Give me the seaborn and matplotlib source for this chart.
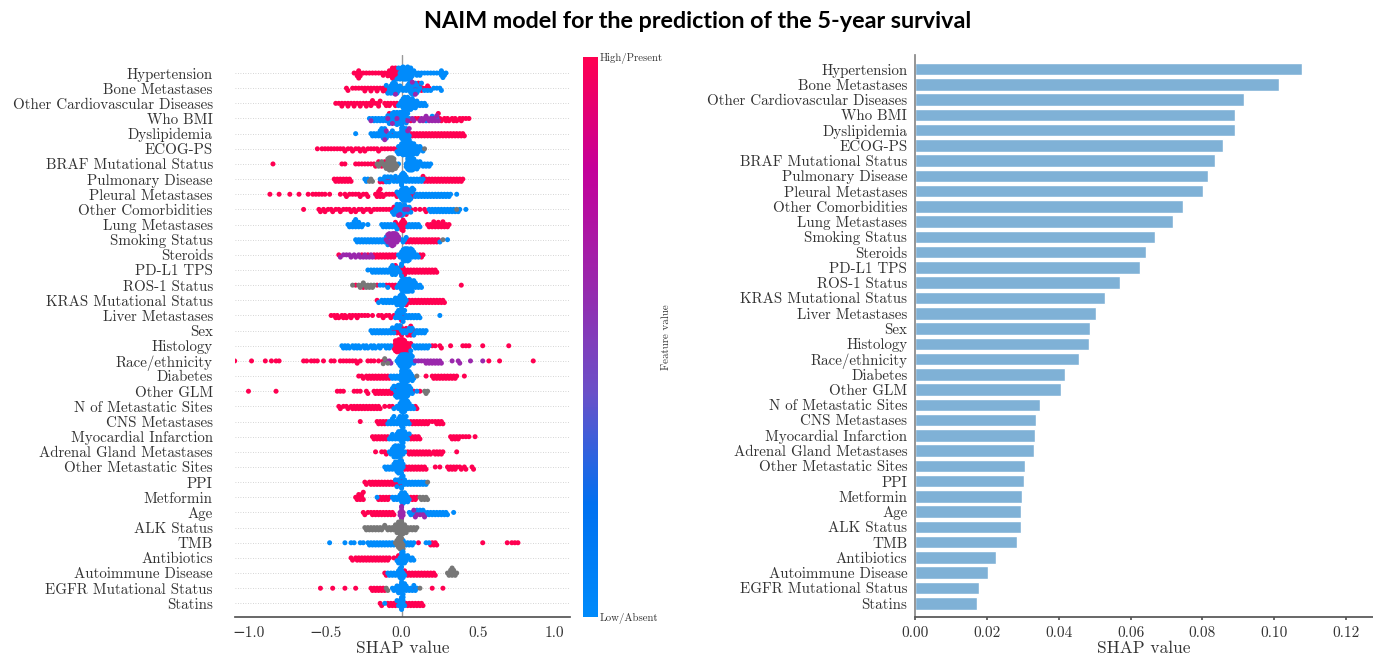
import numpy as np
import pandas as pd
import matplotlib
matplotlib.use("Agg")
import matplotlib.pyplot as plt
from matplotlib.colors import LinearSegmentedColormap
from matplotlib.cm import ScalarMappable
import seaborn as sns
import warnings
warnings.filterwarnings("ignore")

features = ["Hypertension", "Bone Metastases", "Other Cardiovascular Diseases", "Who BMI", "Dyslipidemia",
            "ECOG-PS", "BRAF Mutational Status", "Pulmonary Disease", "Pleural Metastases", "Other Comorbidities",
            "Lung Metastases", "Smoking Status", "Steroids", "PD-L1 TPS", "ROS-1 Status", "KRAS Mutational Status",
            "Liver Metastases", "Sex", "Histology", "Race/ethnicity", "Diabetes", "Other GLM",
            "N of Metastatic Sites", "CNS Metastases", "Myocardial Infarction", "Adrenal Gland Metastases",
            "Other Metastatic Sites", "PPI", "Metformin", "Age", "ALK Status", "TMB", "Antibiotics",
            "Autoimmune Disease", "EGFR Mutational Status", "Statins"]

mean_shap = [0.1077, 0.1012, 0.0915, 0.0892, 0.0890, 0.0857, 0.0836, 0.0815, 0.0803, 0.0747, 0.0718, 0.0668,
             0.0643, 0.0625, 0.0572, 0.0530, 0.0505, 0.0487, 0.0483, 0.0457, 0.0418, 0.0407, 0.0348, 0.0338,
             0.0335, 0.0332, 0.0307, 0.0303, 0.0297, 0.0296, 0.0295, 0.0284, 0.0225, 0.0202, 0.0178, 0.0172]

# SHAP values per patient group, in hundredths, read from the beeswarm
high_values = {
    "Hypertension": [-31,-29,-29,-28,-28,-27,-27,-25,-23,-21,-19,-17,-15,-13,-12,-11,-9,-9,-8,-7,-7,-6,-6,-6,-5,-5,-5,-4,-4,-4,-3,-3,-2],
    "Bone Metastases": [-36,-35,-32,-30,-28,-26,-24,-24,-22,-20,-20,-18,-16,-16,-14,-12,-12,-10,-10,8,10,11,12,13,14,16,17,18],
    "Other Cardiovascular Diseases": [-43,-41,-39,-39,-37,-35,-35,-33,-31,-31,-29,-27,-27,-25,-23,-23,-21,-20,-19,-19,-17,-15,-15,-14,-11,-10,-9,-8,-7,-5,-4,-3],
    "Who BMI": [-8,-4,0,3,6,9,11,24,25,26,28,29,30,31,33,34,35,36,38,39,40,42,44],
    "Dyslipidemia": [-10,-6,6,7,8,9,10,11,12,13,14,15,16,17,18,19,20,21,22,23,24,25,26,27,28,29,30,31,32,33,34,35,36,37,38,39,40,41],
    "ECOG-PS": [-55,-52,-50,-48,-46,-44,-42,-40,-38,-37,-35,-33,-32,-30,-28,-27,-25,-24,-22,-20,-18,-16,-15,-13,-11,-9,-7,-5,-3],
    "BRAF Mutational Status": [-84,-39,-37,-30,-28,-26,-24,-22,-20,-18,-17,-15,-13,-11],
    "Pulmonary Disease": [-44,-43,-42,-41,-40,-39,-38,-37,-36,-35,-34,-33,-14,-12,-10,-8,-4,14,15,16,17,18,19,20,21,22,23,24,25,26,27,28,29,30,31,32,33,34,35,36,37,38,39,40],
    "Pleural Metastases": [-86,-80,-73,-67,-61,-58,-56,-54,-52,-50,-47,-40,-37,-36,-34,-32,-30,-28,-27,-25,-23,-22,-17,-16,-15,-15,-14,-14,-13,-12,-10,-8,-6,-4,-3,6,7,8],
    "Other Comorbidities": [-64,-54,-53,-51,-50,-48,-46,-45,-43,-41,-40,-38,-36,-34,-33,-31,-30,-28,-26,-25,-23,-21,-20,-18,-16,-14,-12,-10,-8,-6,-5,3,6,9,12,15,16],
    "Lung Metastases": [-4,-3,-2,-1,0,0,0,1,1,1,2,2,3,17,18,19,20,21,21,22,23,24,24,25,26,27,27,28,29,30,31],
    "Smoking Status": [3,4,5,6,7,8,9,10,11,12,13,14,15,16,17,18,19,20,21,22,23,24],
    "Steroids": [-41,-26,-22,-18,-17,-16,-15,-14,-13,-12,-11,-10,-9,-8,-7,-6,-5,-4,12,13,14],
    "PD-L1 TPS": [-4,-1,0,0,1,1,2,2,3,4,5,6,7,8,9,10,11,12,13,14,15,16,17,18,19,20,21,22,23],
    "ROS-1 Status": [-30,-25,-16,-10,-8,-6,-5,-4,39],
    "KRAS Mutational Status": [-16,3,4,5,6,7,8,9,10,11,12,13,14,15,16,17,18,19,20,21,22,23,24,25,26,27,28],
    "Liver Metastases": [-46,-44,-43,-42,-41,-39,-38,-37,-36,-34,-33,-32,-30,-29,-28,-26,-24,-22,-19,-15,-13,-12,-10,-8,-7,-5,0,0,1],
    "Sex": [-6,-4,-3,-2,-1,0,0,3,4,5,6,6,7,8],
    "Histology": [-5,-5,-4,-4,-4,-3,-3,-3,-2,-2,-2,-2,-1,-1,-1,-1,0,0,0,0,0,1,1,1,1,2,2,2,3,3,3,4,4,5,5,6,20,22,25,26,32,40,42,44,53,70],
    "Race/ethnicity": [-109,-98,-89,-85,-82,-80,-64,-62,-59,-57,-55,-51,-46,-44,-40,-38,-36,-34,-32,-30,-29,-27,-22,-20,-18,-15,-12,57,64,86],
    "Diabetes": [-28,-26,-25,-23,-22,-21,-20,-19,-18,-17,-16,-15,-14,-13,-12,-11,-10,-9,-8,16,20,21,22,23,24,25,26,27,28,29,30,31,32,33,34,35,36,41],
    "Other GLM": [-100,-82,-42,-40,-38,-31,-29,-27,-23,-22,-18,-17,-16,-15,-14,-13,-12,-11,-10,-9,-8,-7,-6,-5,-4,8,12],
    "N of Metastatic Sites": [-41,-40,-38,-36,-35,-33,-32,-31,-30,-29,-28,-27,-26,-25,-24,-23,-22,-21,-20,-19,-18,-17,-16,-15,-14,-11,-8,-6,9,10],
    "CNS Metastases": [-27,-16,-15,-14,-13,-12,-11,-10,6,7,8,9,10,11,12,13,14,15,16,17,18,20,22,23,24,25,26,27],
    "Myocardial Infarction": [-19,-18,-17,-16,-15,-14,-13,-12,-11,-10,-9,5,6,7,8,9,10,11,12,32,33,34,35,36,37,38,40,42,44,48],
    "Adrenal Gland Metastases": [-17,-13,-11,-10,4,5,6,7,8,9,10,11,12,13,14,15,16,17,18,19,21,22,23,24,25,26,27,36],
    "Other Metastatic Sites": [2,3,4,5,6,7,8,9,10,11,12,13,14,15,16,22,25,30,31,32,33,34,35,36,38,39,41,42,46,47],
    "PPI": [-24,-23,-21,-20,-19,-18,-17,-16,-15,-14,-13,-12,-11,-10,-9,-8,-7,-6,-5,-4,-3,-2,0,0],
    "Metformin": [-30,-29,-28,-28,-27,-26,-26,-25,-25,-15,-14,-13,-12,-11,-10,-9,-8,6,7,8,9,10],
    "Age": [-25,-24,-22,-20,-19,-18,-17,-16,-15,-14,-13,-12,-11,-10,-9,-8,-7,-6,-5],
    "ALK Status": [],
    "TMB": [11,19,20,21,22,23,53,69,72,74,76],
    "Antibiotics": [-33,-32,-30,-29,-28,-27,-26,-25,-24,-23,-22,-21,-20,-19,-18,-17,-16,-15,-14,-13,-12,-11,-10,-9,-8,-5,-3,-2],
    "Autoimmune Disease": [-11,-10,2,3,4,5,6,7,8,9,10,11,12,13,14,15,16,17,18,19,20,21,22],
    "EGFR Mutational Status": [-53,-45,-37,-30,-20,-19,-18,-17,-16,-15,-14,-13,-12,-11,8,20,27],
    "Statins": [-14,-13,-9,-8,-7,-6,-5,-4,-3,3,4,5,6,7,8,9,10,11,12,13,14],
}

low_values = {
    "Hypertension": [-3,-2,-2,-1,-1,-1,0,0,0,1,1,1,1,2,2,2,2,3,3,3,4,4,4,4,5,5,5,6,6,6,7,7,8,9,10,11,12,13,15,17,19,21,23,25,26,26,27,27,28,29],
    "Bone Metastases": [-10,-9,-8,-8,-7,-7,-6,-6,-6,-5,-5,-5,-4,-4,-4,-3,-3,-2,-2,-1,0,1,2,3,4,4,5,5,6,6,6,7,7,7,8,8,8,9,9,10,10,11,12,13,15,17,19,21,23,25,26],
    "Other Cardiovascular Diseases": [-2,-1,0,0,1,1,1,2,2,2,2,3,3,3,3,4,4,4,4,5,5,5,5,6,6,6,7,7,7,8,8,9,9,10,10,11,12,13,14,15,16],
    "Who BMI": [-21,-19,-18,-17,-16,-15,-14,-13,-12,-11,-10,-9,-8,-8,-7,-7,-6,-6,-5,-5,-5,-4,-4,-3,-3,-3,-2,-2,-2,-1,-1,-1,0,0,0,0,1,1,1,2,2,3,3,4,5,16,20,23],
    "Dyslipidemia": [-30,-20,-19,-18,-17,-16,-15,-14,-14,-13,-13,-12,-12,-12,-11,-11,-10,-9,-8,-7,-6,-5,-4,-3,-2,-1,0,0,0,0,1,1,1,1,2,2,2,3,3,3,4,4,5,5],
    "ECOG-PS": [-3,-2,-2,-1,-1,0,0,0,1,1,1,2,2,2,2,3,3,3,3,4,4,4,4,5,5,5,5,6,6,6,6,7,7,7,8,8,8,9,9,10,10,11,11,12,13,14],
    "BRAF Mutational Status": [-2,3,3,4,4,4,5,5,5,5,6,6,6,6,7,7,7,8,8,8,9,9,10,10,11,11,12,13,14,15,16,17,18,19],
    "Pulmonary Disease": [-24,-23,-22,-14,-12,-11,-10,-9,-8,-7,-6,-5,-4,-3,-2,-1,-1,0,0,0,0,1,1,1,2,2,3,3,4,5,6,7,8,9,10,11,12,13,14],
    "Pleural Metastases": [-3,-2,-1,-1,0,0,0,1,1,1,1,2,2,2,2,3,3,3,3,4,4,4,5,5,5,6,6,7,7,8,9,10,11,12,13,14,15,16,17,18,19,20,21,22,23,24,25,26,27,28,29,30,31,32,36],
    "Other Comorbidities": [-6,-5,-4,-4,-3,-3,-3,-2,-2,-1,-1,0,0,0,1,1,2,2,3,4,5,6,18,19,20,21,22,23,24,25,26,27,28,29,30,31,32,33,34,35,37,38,42],
    "Lung Metastases": [-35,-34,-33,-32,-31,-31,-30,-30,-29,-28,-28,-27,-26,-25,-22,-13,-12,-11,-10,-9,-8,-7,-6,-5,-4,-3,4,5,6,7,8,9,10,11,12],
    "Smoking Status": [-30,-29,-28,-27,-26,-25,-24,-23,-22,-21,-20,-19,-18,-17,-16,-15,-14,-13,-12,-11,-10,-9,-8,0,1,2,3,25,30],
    "Steroids": [-2,-1,0,0,1,1,1,2,2,2,2,3,3,3,3,4,4,4,4,5,5,5,6,6,6,7,7,8,8,9,10,11],
    "PD-L1 TPS": [-22,-20,-19,-18,-17,-16,-15,-14,-13,-12,-11,-10,-9,-8,-7,-7,-6,-6,-6,-5,-5,-4,-4,-3,-3,-2,-1,0,0,0],
    "ROS-1 Status": [-14,-12,-9,-3,-2,-1,-1,0,0,0,1,1,1,1,2,2,2,2,3,3,3,3,4,4,4,4,5,5,5,5,6,6,6,7,7,7,8,8,9,9,10,11,12,13],
    "KRAS Mutational Status": [-15,-13,-12,-11,-10,-9,-8,-7,-6,-5,-4,-4,-3,-3,-2,-2,-1,-1,-1,0,0,0,0,1,1,1,2,2,3],
    "Liver Metastases": [-4,-3,-3,-2,-2,-1,-1,0,0,1,1,2,2,3,4,5,6,7,8,9,10,11,12,25],
    "Sex": [-20,-19,-18,-17,-16,-15,-14,-13,-12,-11,-10,-9,-8,-7,-6,-5,-4,-3,-2,-1,0,1,2,3,4,5,6,7,8,9,10,11,12,13,14,15,16],
    "Histology": [-39,-38,-37,-36,-35,-34,-32,-31,-30,-29,-28,-27,-25,-24,-23,-22,-20,-19,-18,-17,-15,-14,-13,-11,-10,-9,-8,-7,6,8,9,10,11,12,13,14,15,16,17,18],
    "Race/ethnicity": [-3,-2,-2,-1,-1,-1,0,0,0,0,1,1,1,1,1,2,2,2,2,2,3,3,3,3,3,4,4,4,4,5,5,5,6,6,6,7,7,8],
    "Diabetes": [-7,-6,-5,-4,-3,-2,-1,0,0,0,0,1,1,1,1,2,2,2,2,3,3,3,4,4,4,5,5,6,6,7,7,8],
    "Other GLM": [-6,-5,-4,-4,-3,-3,-3,-2,-2,-2,-2,-1,-1,-1,-1,0,0,0,0,1,1,1,1,2,2,2,2,3,3,3,3,4,4,4,5,5,6,6,7,10],
    "N of Metastatic Sites": [-5,-3,-2,-1,-1,0,0,0,1,1,1,1,2,2,2,3,3,3,4,4,5,5,6,7,8],
    "CNS Metastases": [-9,-8,-7,-6,-6,-5,-5,-4,-3,-2,-2,-1,-1,0,0,0,1,1,1,2,2,3,3,4,5],
    "Myocardial Infarction": [-8,-7,-6,-6,-5,-4,-3,-3,-2,-2,-1,-1,0,0,0,0,1,1,1,2,2,3,3,4,5],
    "Adrenal Gland Metastases": [-8,-7,-6,-6,-5,-5,-5,-4,-4,-4,-3,-3,-3,-2,-2,-2,-1,-1,-1,0,0,0,1,1,2],
    "Other Metastatic Sites": [-11,-10,-9,-8,-7,-6,-5,-5,-4,-4,-3,-3,-3,-2,-2,-2,-1,-1,-1,-1,0,0,0,0,1,1],
    "PPI": [-4,-3,-2,-1,0,0,0,1,1,2,2,3,4,5,6,7,8,9,10,11,12,13,14,15,16],
    "Metformin": [-16,-6,-5,-4,-3,-2,-1,-1,0,0,0,1,1,1,2,2,2,3,3,4,4,5],
    "Age": [5,6,7,8,9,10,11,12,13,14,15,16,17,18,19,20,21,22,23,24,25,26,27,28,29,30,34],
    "ALK Status": [],
    "TMB": [-47,-37,-33,-31,-27,-25,-22,-21,-20,-19,-18,-17,-16,-15,-14,-13,-12,-11,-10,-9,-8,-7,-6,-5,1,2,3,4,5,6,7,8,16,18],
    "Antibiotics": [-3,-2,-1,-1,0,0,0,0,1,1,1,2,2,3,3,4,5,6,7,8],
    "Autoimmune Disease": [-9,-8,-7,-6,-5,-4,-3,-2,-2,-1,-1,-1,0,0,0,0,1,1,2],
    "EGFR Mutational Status": [-6,-5,-4,-3,-3,-2,-2,-1,-1,0,0,0,0,1,1,1,2,2,3,3,4,5,6,7,8,9,10],
    "Statins": [-11,-3,-2,-1,-1,0,0,0,0,0,1,1,1,2],
}

mid_values = {
    "Who BMI": [-20,-9,-6,-3,4,7,8,12,13,14,15,16,17,18,19,20,21,22,23,24],
    "Dyslipidemia": [-11,-10,4,5],
    "Bone Metastases": [-4,7,9],
    "Other Comorbidities": [-2,-1,2,4],
    "Smoking Status": [-10,-9,-9,-8,-8,-7,-7,-7,-6,-6,-6,-6,-5,-5,-5,-5,-4,-4,-4,-3,-3,-2,-2],
    "Steroids": [-40,-38,-36,-34,-33,-31,-30,-28,-27,-25,-24,-23,-21,-20,-19],
    "Race/ethnicity": [-10,-8,-7,9,11,13,15,16,17,18,19,20,21,22,23,24,25,26,33,37,38,45,53],
    "Age": [-1,-1,0,0,0,0,0,1,1,8,9,10,12,14,15],
}

na_values = {
    "ECOG-PS": [15],
    "BRAF Mutational Status": [-16,-15,-14,-13,-12,-11,-10,-10,-9,-9,-9,-8,-8,-8,-8,-7,-7,-7,-7,-6,-6,-6,-6,-5,-5,-5,-4,-4,-3],
    "Pulmonary Disease": [-21,-20,-19],
    "Other Comorbidities": [36],
    "Smoking Status": [27],
    "ROS-1 Status": [-32,-28,-27,-26,-25,-24,-23,-22,-21,-20,-19,-18],
    "Race/ethnicity": [-12,-11,-9],
    "Diabetes": [10],
    "Other GLM": [15,16,17],
    "PPI": [17],
    "Metformin": [12,13,14,15,16,17],
    "ALK Status": [-24,-23,-22,-21,-20,-19,-18,-17,-16,-15,-14,-13,-12,-11,-10,-9,-8,-7,-6,-5,-4,-4,-3,-3,-2,-2,-2,-1,-1,-1,0,0,0,0,0,1,1,1,2,2,3,3,4,5,6,7,8,9,10],
    "TMB": [-4,-3,-3,-2,-2,-2,-1,-1,-1,-1,0,0,0,0,1,1],
    "Autoimmune Disease": [30,31,32,32,33,33,34,34,35,36],
    "EGFR Mutational Status": [-10,-9,12],
}

group_colors = {"high": "#ff0051", "low": "#008bfb", "mid": "#9a27ac", "na": "#777777"}
cbar_colors = ["#008bfb", "#0070f0", "#6a50c8", "#9a27ac", "#c4009a", "#ff0051"]
x_ticks_left = [-1.0, -0.5, 0.0, 0.5, 1.0]
x_labels_left = ["\u22121.0", "\u22120.5", "0.0", "0.5", "1.0"]
x_ticks_right = [0.00, 0.02, 0.04, 0.06, 0.08, 0.10, 0.12]

sns.set_theme(style="white")
SERIF = ["cmr10", "DejaVu Serif"]
TXT = "#333333"
W, H = 1373, 656
fig = plt.figure(figsize=(W / 100, H / 100), dpi=100, facecolor="white")


def box(x0, y0, x1, y1):
    return [x0 / W, 1 - y1 / H, (x1 - x0) / W, (y1 - y0) / H]


rows = []
for name, source in [("high", high_values), ("low", low_values), ("mid", mid_values), ("na", na_values)]:
    for f, vals in source.items():
        rows += [{"feature": f, "shap": v / 100, "group": name} for v in vals]
df = pd.DataFrame(rows)

ax = fig.add_axes(box(235, 55, 570, 617))
ax.axvline(0, color="#999999", lw=1, zorder=0)
# the swarm is laid out with a small nominal dot so neighbours overlap as in the reference
sns.swarmplot(data=df, x="shap", y="feature", order=features, hue="group", palette=group_colors, orient="h",
              size=1.9, linewidth=0, legend=False, warn_thresh=1.0, ax=ax, zorder=3)
ax.set_xlim(-1.088, 1.10)
ax.set_ylim(35.9, -1.19)
ax.yaxis.grid(True, ls=(0, (1, 2)), lw=0.6, color="#c8c8c8")
ax.xaxis.grid(False)
ax.set_axisbelow(True)
for s in ["top", "left", "right"]:
    ax.spines[s].set_visible(False)
ax.spines["bottom"].set_color("#555555")
ax.set_xticks(x_ticks_left)
ax.set_xticklabels(x_labels_left, family=SERIF, fontsize=11, color=TXT)
ax.tick_params(axis="x", length=0, pad=6.5)
ax.tick_params(axis="y", length=0, pad=16)
ax.set_yticks(range(len(features)))
ax.set_yticklabels(features, family=SERIF, fontsize=10.8, color=TXT)
ax.set_ylabel("")
ax.set_xlabel("SHAP value", family=SERIF, fontsize=12.5, color=TXT, labelpad=1)

cmap = LinearSegmentedColormap.from_list("shap_red_blue", cbar_colors)
cax = fig.add_axes(box(583, 57, 598, 617))
cb = fig.colorbar(ScalarMappable(cmap=cmap), cax=cax, ticks=[])
cb.outline.set_visible(False)
fig.text(600 / W, 1 - 58 / H, "High/Present", family=SERIF, fontsize=7.8, color=TXT, va="center")
fig.text(600 / W, 1 - 618 / H, "Low/Absent", family=SERIF, fontsize=7.8, color=TXT, va="center")
fig.text(666 / W, 1 - 337 / H, "Feature value", family=SERIF, fontsize=7.9, color=TXT, va="center", ha="center",
         rotation=90)

ax2 = fig.add_axes(box(915, 55, 1373, 617))
sns.barplot(x=mean_shap, y=features, order=features, color="#7fb1d6", saturation=1, orient="h", width=0.82, ax=ax2)
ax2.set_xlim(0, 0.1275)
ax2.set_ylim(35.9, -0.92)
for s in ["top", "right"]:
    ax2.spines[s].set_visible(False)
ax2.spines["bottom"].set_color("#555555")
ax2.spines["left"].set_color("#888888")
ax2.set_xticks(x_ticks_right)
ax2.set_xticklabels([f"{t:.2f}" for t in x_ticks_right], family=SERIF, fontsize=11, color=TXT)
ax2.tick_params(axis="x", length=2, pad=4.5, color="#555555", bottom=True)
ax2.tick_params(axis="y", length=0, pad=5.5)
ax2.set_yticks(range(len(features)))
ax2.set_yticklabels(features, family=SERIF, fontsize=10.8, color=TXT)
ax2.set_ylabel("")
ax2.set_xlabel("SHAP value", family=SERIF, fontsize=12.5, color=TXT, labelpad=1)

fig.text(698 / W, 1 - 21 / H, "NAIM model for the prediction of the 5-year survival", family="Lato",
         fontweight="bold", fontsize=16.8, color="black", ha="center", va="center")

# freeze the seaborn layout, then show the dots at their real size
fig.canvas.draw()
for coll in ax.collections:
    if "draw" in vars(coll):
        del coll.draw
        coll.set_sizes([13.0])

fig.savefig("out.png", dpi=100, facecolor="white")
